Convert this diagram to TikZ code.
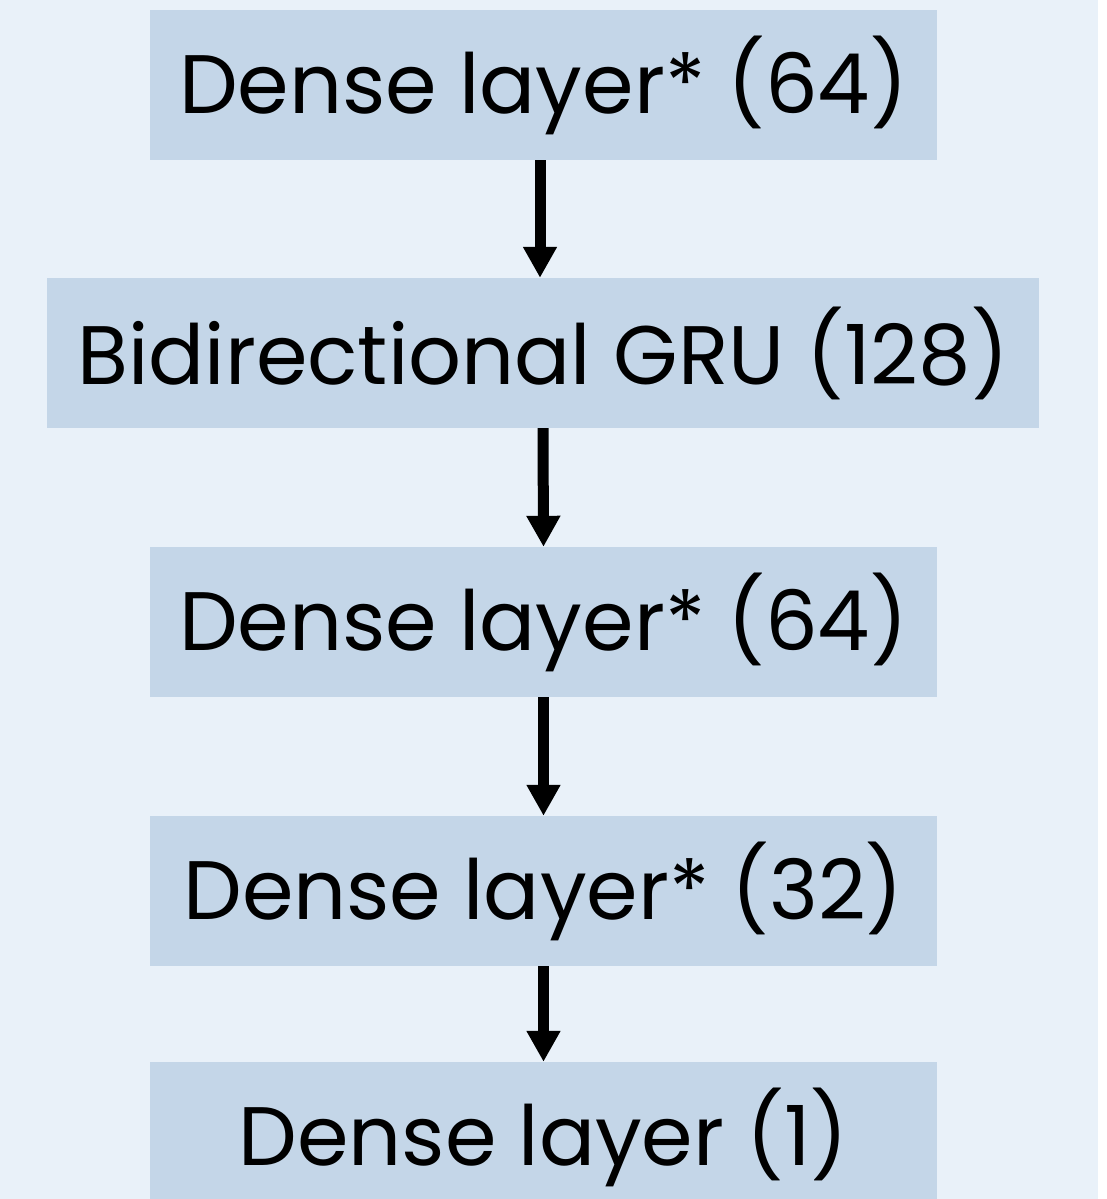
\documentclass[tikz,border=0pt]{standalone}
\usepackage{fontspec}
\setmainfont{Poppins}
\usetikzlibrary{arrows.meta}
\definecolor{bgcol}{RGB}{233,241,249}
\definecolor{boxcol}{RGB}{196,214,232}
\begin{document}
\begin{tikzpicture}[x=1pt,y=-1pt,
  layerbox/.style={rectangle,fill=boxcol,inner sep=0pt,minimum height=150pt,
    font=\fontsize{83}{90}\selectfont,text=black},
  flow/.style={line width=11pt,-{Triangle[width=32pt,length=31pt]},shorten >=0pt}]
\useasboundingbox (0,0) rectangle (1107,1199);
\clip (0,0) rectangle (1107,1199);
\fill[white] (0,0) rectangle (1107,1199);
\fill[bgcol] (0,0) rectangle (1098,1199);
\node[layerbox,minimum width=787pt] (d1) at (543.5,85) {Dense layer* (64)};
\node[layerbox,minimum width=992pt] (gru) at (543,353) {Bidirectional GRU (128)};
\node[layerbox,minimum width=787pt] (d2) at (543.5,622) {Dense layer* (64)};
\node[layerbox,minimum width=787pt] (d3) at (543.5,891) {Dense layer* (32)};
\node[layerbox,minimum width=787pt] (d4) at (543.5,1137) {Dense layer (1)};
\draw[flow] ([xshift=-3.5pt]d1.south) -- ([xshift=-3.5pt]d1.south |- gru.north);
\draw[flow] (gru.south) -- (d2.north);
\draw[flow] (d2.south) -- (d3.north);
\draw[flow] (d3.south) -- (d4.north);
\end{tikzpicture}
\end{document}
